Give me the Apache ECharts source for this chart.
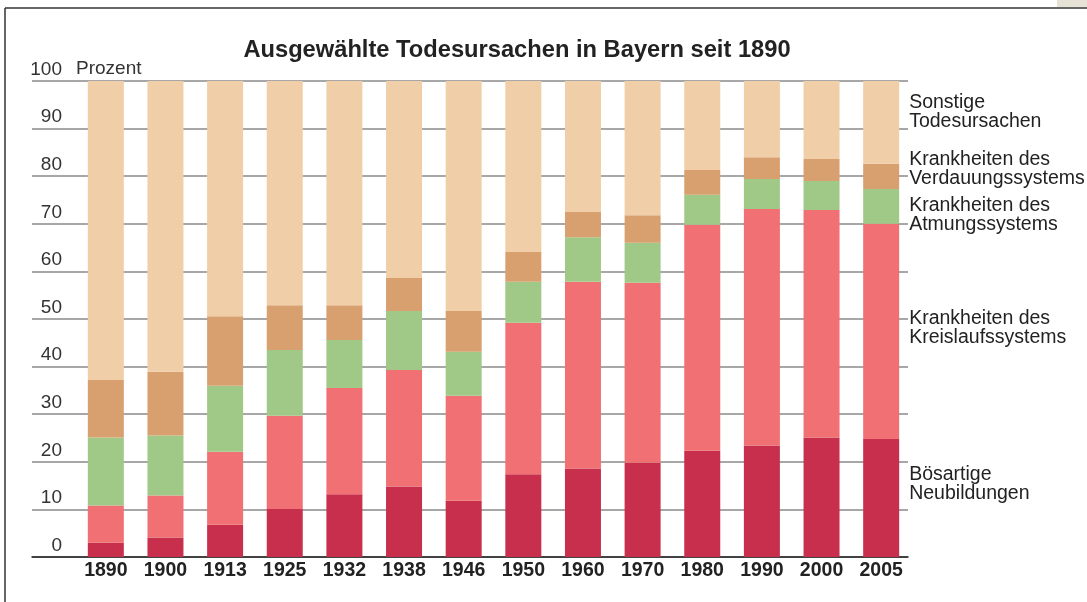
<!DOCTYPE html>
<html lang="de">
<head>
    <meta charset="UTF-8">
    <title>Ausgewählte Todesursachen in Bayern seit 1890</title>
    <script src="https://cdn.jsdelivr.net/npm/echarts@6/dist/echarts.min.js"></script>
    <style>
        html, body { margin: 0; padding: 0; background: #fff; }
        #main { width: 1087px; height: 602px; }
    </style>
</head>
<body>
    <div id="main"></div>
    <script>
        // Jahre
        const years = ['1890', '1900', '1913', '1925', '1932', '1938', '1946', '1950', '1960', '1970', '1980', '1990', '2000', '2005']

        // Anteile in Prozent, von unten nach oben gestapelt
        const boesartig = [3.0, 4.1, 6.8, 10.1, 13.2, 14.8, 11.8, 17.4, 18.6, 19.8, 22.3, 23.4, 25.1, 24.8]
        const kreislauf = [7.8, 8.8, 15.3, 19.6, 22.3, 24.5, 22.1, 31.8, 39.2, 37.8, 47.5, 49.7, 47.8, 45.2]
        const atmung = [14.3, 12.6, 13.9, 13.8, 10.1, 12.4, 9.2, 8.6, 9.4, 8.4, 6.3, 6.3, 6.1, 7.3]
        const verdauung = [12.1, 13.4, 14.6, 9.4, 7.3, 6.9, 8.6, 6.3, 5.3, 5.8, 5.2, 4.6, 4.6, 5.3]
        const sonstige = [62.8, 61.1, 49.4, 47.1, 47.1, 41.4, 48.3, 35.9, 27.5, 28.2, 18.7, 16.0, 16.4, 17.4]

        const yTicks = [0, 10, 20, 30, 40, 50, 60, 70, 80, 90, 100]

        const names = ['Bösartige\nNeubildungen', 'Krankheiten des\nKreislaufssystems', 'Krankheiten des\nAtmungssystems', 'Krankheiten des\nVerdauungssystems', 'Sonstige\nTodesursachen']
        const colors = ['#c82f4c', '#f07073', '#a0c886', '#d89f6f', '#f0cea8']
        const labelShift = [-14, -3, 9, -7, -10]

        const element = document.querySelector('#main')
        const chart = echarts.init(element)

        const makeSeries = (values, i) => {
            let data = values.map((v, k) => {
                if (k !== values.length - 1) {
                    return v
                }
                return {
                    value: v,
                    label: {
                        show: true,
                        position: 'right',
                        distance: 10,
                        offset: [0, labelShift[i]],
                        align: 'left',
                        formatter: names[i],
                        color: '#222',
                        fontSize: 19.5,
                        lineHeight: 19,
                        fontFamily: 'Liberation Sans',
                    },
                }
            })
            return {
                name: names[i],
                type: 'bar',
                stack: 'all',
                xAxisIndex: 1,
                yAxisIndex: 1,
                barWidth: 36,
                itemStyle: { color: colors[i] },
                data: data,
            }
        }

        const option = {
            backgroundColor: '#fff',
            animation: false,
            textStyle: { fontFamily: 'Liberation Sans' },
            title: {
                text: 'Ausgewählte Todesursachen in Bayern seit 1890',
                left: 512,
                textAlign: 'center',
                top: 33,
                textStyle: { fontSize: 23.7, fontWeight: 'bold', color: '#222', fontFamily: 'Liberation Sans' },
            },
            graphic: [
                { type: 'line', shape: { x1: 5, y1: 8, x2: 1087, y2: 8 }, style: { stroke: '#333', lineWidth: 1.5 } },
                { type: 'line', shape: { x1: 5, y1: 8, x2: 5, y2: 602 }, style: { stroke: '#333', lineWidth: 1.5 } },
                { type: 'rect', shape: { x: 1057, y: 0, width: 30, height: 7 }, style: { fill: '#e6e2d6' } },
            ],
            grid: [
                { left: 32, right: 179, top: 81, bottom: 45 },
                { left: 76, right: 176, top: 81, bottom: 45 },
            ],
            xAxis: [
                {
                    gridIndex: 0,
                    type: 'value',
                    min: 0,
                    max: 1,
                    axisLine: { show: true, lineStyle: { color: '#222', width: 1.5 } },
                    axisTick: { show: false },
                    axisLabel: { show: false },
                    splitLine: { show: false },
                },
                {
                    gridIndex: 1,
                    type: 'category',
                    data: years,
                    axisLine: { show: false },
                    axisTick: { show: false },
                    axisLabel: {
                        interval: 0,
                        margin: 4,
                        fontSize: 19.5,
                        fontWeight: 'bold',
                        color: '#222',
                        fontFamily: 'Liberation Sans',
                    },
                },
            ],
            yAxis: [
                {
                    gridIndex: 0,
                    type: 'value',
                    min: 0,
                    max: 100,
                    interval: 10,
                    axisLine: { show: false },
                    axisTick: { show: false },
                    axisLabel: { show: false },
                    splitLine: { show: true, lineStyle: { color: '#8a8a8a', width: 1.5 } },
                },
                {
                    gridIndex: 1,
                    type: 'value',
                    min: yTicks[0],
                    max: yTicks[yTicks.length - 1],
                    interval: 10,
                    name: 'Prozent',
                    nameLocation: 'end',
                    nameGap: 12,
                    nameTextStyle: {
                        align: 'left',
                        verticalAlign: 'middle',
                        fontSize: 19,
                        color: '#333',
                        fontFamily: 'Liberation Sans',
                    },
                    axisLine: { show: false },
                    axisTick: { show: false },
                    splitLine: { show: false },
                    axisLabel: {
                        margin: 14,
                        verticalAlign: 'bottom',
                        padding: [0, 0, 2, 0],
                        fontSize: 19,
                        color: '#333',
                        fontFamily: 'Liberation Sans',
                    },
                },
            ],
            series: [
                { type: 'scatter', xAxisIndex: 0, yAxisIndex: 0, data: [], silent: true },
                makeSeries(boesartig, 0),
                makeSeries(kreislauf, 1),
                makeSeries(atmung, 2),
                makeSeries(verdauung, 3),
                makeSeries(sonstige, 4),
            ],
        }

        chart.setOption(option)
    </script>
</body>
</html>
